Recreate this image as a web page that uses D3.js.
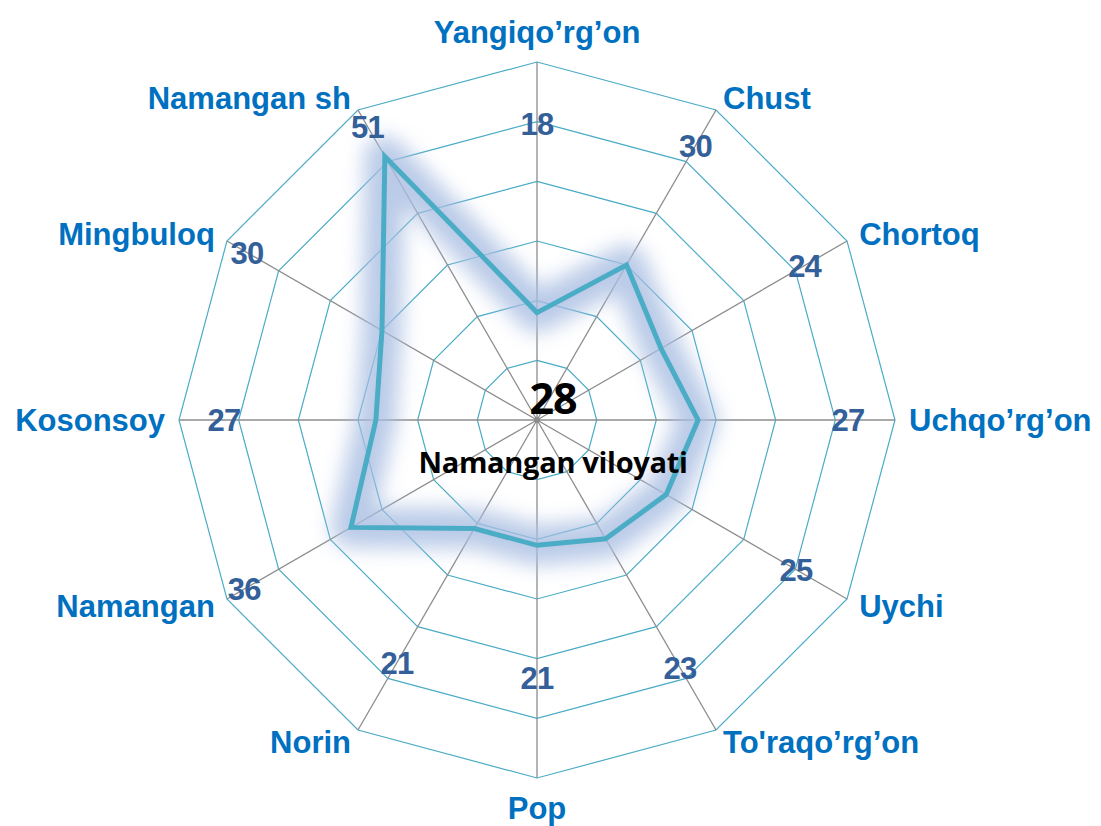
<!DOCTYPE html>
<html>
<head>
<meta charset="utf-8">
<script src="https://cdn.jsdelivr.net/npm/d3@7/dist/d3.min.js"></script>
<style>
  body { margin: 0; background: #fff; }
  svg { display: block; }
</style>
</head>
<body>
<div id="chart-area"></div>
<script>
// Districts, clockwise from the top
var districts = ["Yangiqo\u2019rg\u2019on", "Chust", "Chortoq", "Uchqo\u2019rg\u2019on", "Uychi",
  "To'raqo\u2019rg\u2019on", "Pop", "Norin", "Namangan", "Kosonsoy", "Mingbuloq", "Namangan sh"];
var values = [18, 30, 24, 27, 25, 23, 21, 21, 36, 27, 30, 51];
var regionValue = 28;
var regionName = "Namangan viloyati";
var ringTicks = [10, 20, 30, 40, 50, 60];

// where each value label sits along its spoke (layout only)
var valueLabelR = [296, 317, 309, 311, 299, 286, 258, 280, 338, 313, 335, 339];

var width = 1101, height = 826;
var cx = 537, cy = 420, radius = 358;

var svg = d3.select("#chart-area").append("svg")
  .attr("width", width)
  .attr("height", height);

var defs = svg.append("defs");
defs.append("filter")
  .attr("id", "glow")
  .attr("x", "-30%").attr("y", "-30%")
  .attr("width", "160%").attr("height", "160%")
  .append("feGaussianBlur")
  .attr("stdDeviation", 10);

var g = svg.append("g")
  .attr("transform", "translate(" + cx + "," + cy + ")");

// Scales
var r = d3.scaleLinear().domain([0, 60]).range([0, radius]);
var angle = d3.scalePoint().domain(d3.range(districts.length))
  .range([0, 2 * Math.PI * (districts.length - 1) / districts.length]);

function px(i, rad) { return rad * Math.sin(angle(i)); }
function py(i, rad) { return -rad * Math.cos(angle(i)); }

// Grid rings
var ringLine = d3.lineRadial()
  .angle(function(d) { return angle(d); })
  .curve(d3.curveLinearClosed);

g.selectAll(".ring")
  .data(ringTicks)
  .enter().append("path")
  .attr("class", "ring")
  .attr("fill", "none")
  .attr("stroke", "#4BACC6")
  .attr("stroke-width", 1.2)
  .attr("d", function(t) {
    return ringLine.radius(r(t))(d3.range(districts.length));
  });

// Spokes
g.selectAll(".spoke")
  .data(d3.range(districts.length))
  .enter().append("line")
  .attr("class", "spoke")
  .attr("x1", 0).attr("y1", 0)
  .attr("x2", function(i) { return px(i, r(60)); })
  .attr("y2", function(i) { return py(i, r(60)); })
  .attr("stroke", "#8C8C8C")
  .attr("stroke-width", 1.3);

g.append("circle")
  .attr("r", 3)
  .attr("fill", "#8C8C8C");

// Data line (soft glow first, then the line)
var dataLine = d3.lineRadial()
  .angle(function(d, i) { return angle(i); })
  .radius(function(d) { return r(d); })
  .curve(d3.curveLinearClosed);

g.append("path")
  .attr("d", dataLine(values))
  .attr("fill", "none")
  .attr("stroke", "#A9BEE2")
  .attr("stroke-width", 40)
  .attr("stroke-linejoin", "round")
  .attr("opacity", 0.8)
  .attr("filter", "url(#glow)");

g.append("path")
  .attr("d", dataLine(values))
  .attr("fill", "none")
  .attr("stroke", "#4BACC6")
  .attr("stroke-width", 5)
  .attr("stroke-linejoin", "miter");

// Value labels
g.selectAll(".value-label")
  .data(values)
  .enter().append("text")
  .attr("class", "value-label")
  .attr("x", function(d, i) { return px(i, valueLabelR[i]); })
  .attr("y", function(d, i) { return py(i, valueLabelR[i]); })
  .attr("dy", "0.36em")
  .attr("text-anchor", "middle")
  .attr("font-family", "Liberation Sans, Arial, sans-serif")
  .attr("font-weight", "bold")
  .attr("font-size", "31px")
  .attr("letter-spacing", "-0.8px")
  .attr("fill", "#34609A")
  .text(function(d) { return d; });

// Category labels
g.selectAll(".axis-label")
  .data(districts)
  .enter().append("text")
  .attr("class", "axis-label")
  .attr("x", function(d, i) { return px(i, 372); })
  .attr("y", function(d, i) {
    var s = Math.sin(angle(i));
    var lr = Math.abs(s) < 0.1 ? 388 : 372;
    return py(i, lr);
  })
  .attr("dy", "0.36em")
  .attr("text-anchor", function(d, i) {
    var s = Math.sin(angle(i));
    if (Math.abs(s) < 0.1) return "middle";
    return s > 0 ? "start" : "end";
  })
  .attr("font-family", "Liberation Sans, Arial, sans-serif")
  .attr("font-weight", "bold")
  .attr("font-size", "31px")
  .attr("fill", "#0070C0")
  .text(function(d) { return d; });

// Centre text
g.append("text")
  .attr("x", 16)
  .attr("y", -6)
  .attr("text-anchor", "middle")
  .attr("font-family", "Open Sans, Lato, sans-serif")
  .attr("font-weight", "bold")
  .attr("font-size", "43px")
  .attr("letter-spacing", "-1px")
  .attr("fill", "#000")
  .text(regionValue);

g.append("text")
  .attr("x", 16)
  .attr("y", 53)
  .attr("text-anchor", "middle")
  .attr("font-family", "Open Sans, Lato, sans-serif")
  .attr("font-weight", "bold")
  .attr("font-size", "29px")
  .attr("letter-spacing", "-0.3px")
  .attr("fill", "#000")
  .text(regionName);
</script>
</body>
</html>
